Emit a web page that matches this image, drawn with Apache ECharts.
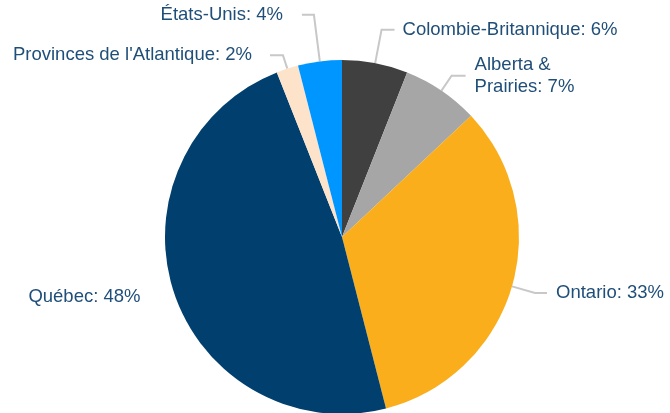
<!DOCTYPE html>
<html>
<head>
<meta charset="utf-8">
<script src="https://cdn.jsdelivr.net/npm/echarts@6/dist/echarts.min.js"></script>
<style>
html,body{margin:0;padding:0;background:#fff;}
#chart{width:670px;height:413px;}
</style>
</head>
<body>
<div id="chart"></div>
<script>
// Data
const categories = ['Colombie-Britannique', 'Alberta & Prairies', 'Ontario', 'Québec', "Provinces de l'Atlantique", 'États-Unis'];
const values = [6, 7, 33, 48, 2, 4];

// Styles (kept separate from data)
const colors = ['#404040', '#A6A6A6', '#FAAE1B', '#003F6E', '#FDE3CA', '#0096FF'];
const lineLen = [34, 18, 24, 17, 14, 47];
const lineLen2 = [13, 14, 12, 1, 13, 12];
const labelGap = [8, 9, 9, 16, 18, 19];
const lineShow = [true, true, true, false, true, true];

const chart = echarts.init(document.getElementById('chart'), null, {renderer: 'canvas'});
const data = categories.map((name, i) => ({
  name: name,
  value: values[i],
  itemStyle: {color: colors[i]},
  label: {distanceToLabelLine: labelGap[i]},
  labelLine: {show: lineShow[i], length: lineLen[i], length2: lineLen2[i]}
}));

chart.setOption({
  animation: false,
  backgroundColor: '#ffffff',
  series: [{
    type: 'pie',
    center: [342, 237],
    radius: 177,
    startAngle: 90,
    clockwise: true,
    avoidLabelOverlap: true,
    data: data,
    label: {
      show: true,
      position: 'outside',
      alignTo: 'none',
      bleedMargin: 2,
      color: '#1F4E79',
      fontFamily: "'Liberation Sans', Arial, sans-serif",
      fontSize: 18.5,
      lineHeight: 22,
      padding: [5, 0, 0, 0],
      formatter: p => p.name.replace(' & ', ' &\n') + ': ' + p.value + '%'
    },
    labelLine: {
      lineStyle: {color: '#C8C8C8', width: 2},
      smooth: false
    },
    emphasis: {disabled: true}
  }]
});
</script>
</body>
</html>
